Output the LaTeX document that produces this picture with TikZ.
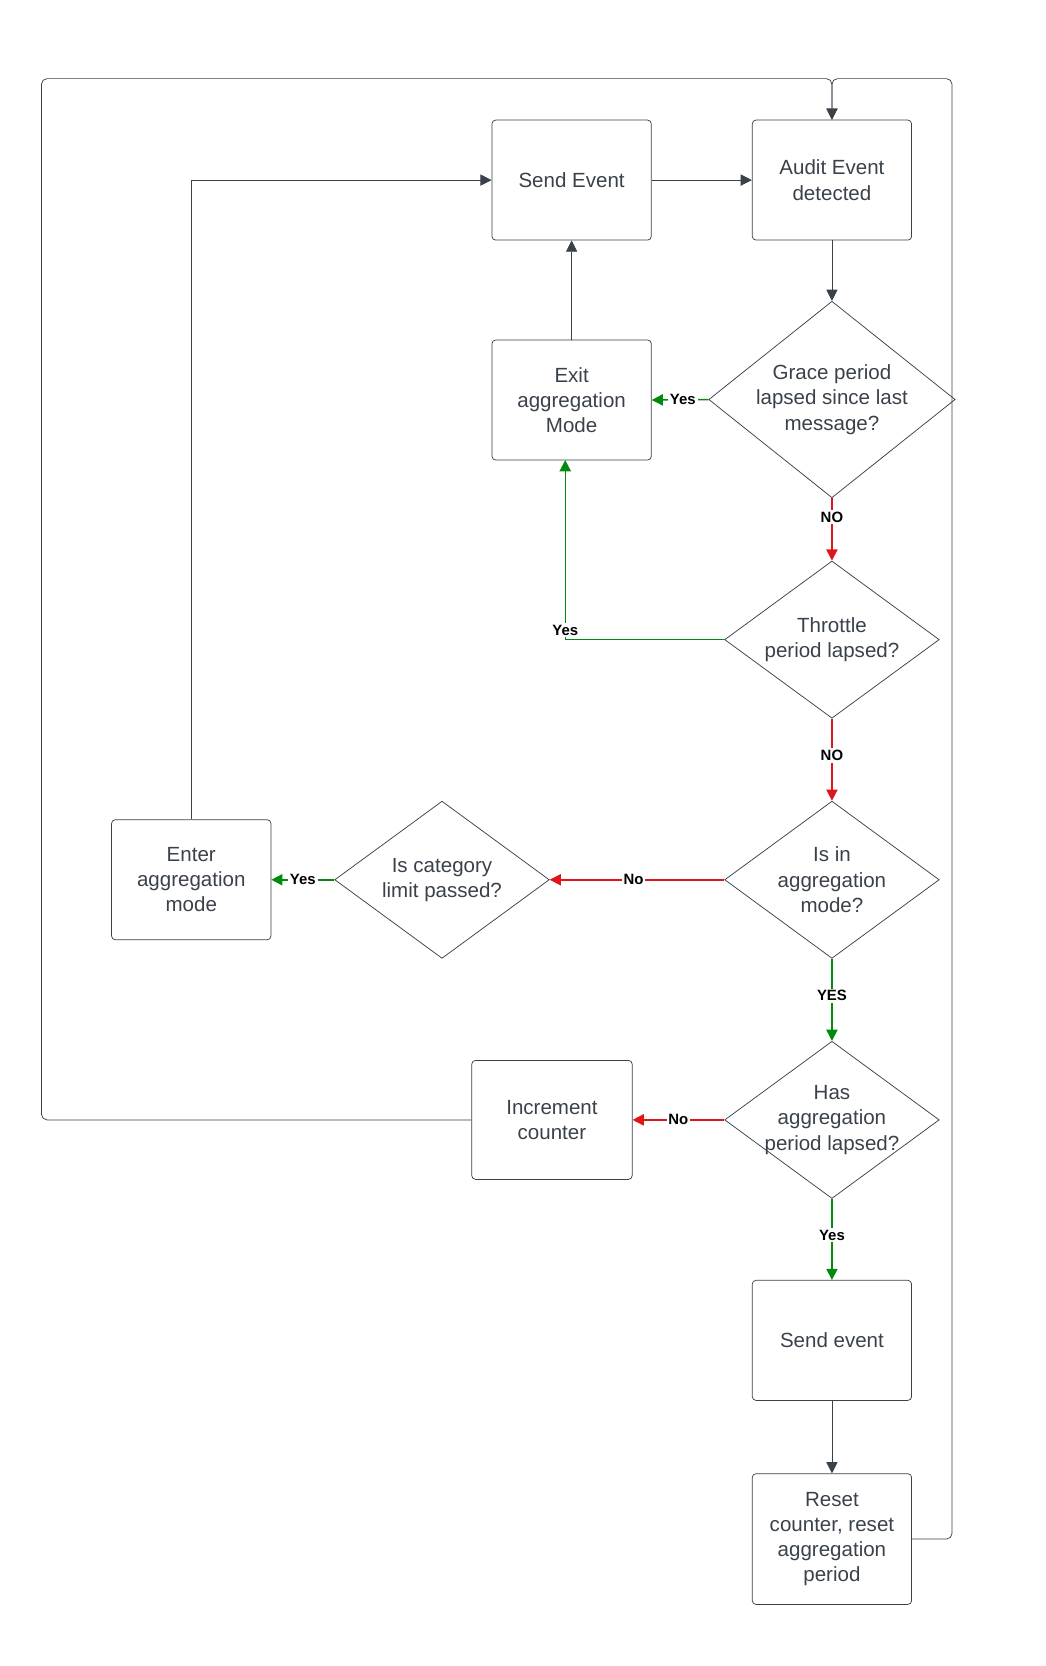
\documentclass[tikz,border=0pt]{standalone}
\usepackage{fontspec}
\setmainfont{Liberation Sans}
\usetikzlibrary{shapes.geometric,arrows.meta}
\definecolor{ink}{HTML}{3A414A}
\definecolor{okgreen}{HTML}{008A0E}
\definecolor{nored}{HTML}{E0151A}
\tikzset{
  box/.style={draw=ink, rounded corners=2pt, minimum width=3cm, minimum height=2.26cm, align=center, text=ink, font=\fontsize{11}{13.5}\selectfont, inner sep=2pt},
  choice/.style={draw=ink, diamond, aspect=1.36, align=center, text=ink, font=\fontsize{11}{13.5}\selectfont, inner sep=0pt},
  flow/.style={draw=ink, -{Triangle[length=6pt,width=6pt]}},
  yesflow/.style={draw=okgreen, thick, -{Triangle[length=6pt,width=6pt,fill=okgreen]}},
  noflow/.style={draw=nored, thick, -{Triangle[length=6pt,width=6pt,fill=nored]}},
  lbl/.style={fill=white, inner sep=1pt, font=\bfseries\fontsize{8}{9}\selectfont, text=black}
}
\begin{document}
\begin{tikzpicture}[x=0.02cm, y=-0.02cm]
\useasboundingbox (0,0) rectangle (984,1568);

\node[box] (send) at (538,169.5) {Send Event};
\node[box] (audit) at (783,169.5) {Audit Event\\detected};
\node[box] (exit) at (538,376.5) {Exit\\aggregation\\Mode};
\node[choice, minimum width=4.6cm, minimum height=3.7cm] (grace) at (783,376) {Grace period\\lapsed since last\\message?};
\node[choice, minimum width=4.04cm, minimum height=2.96cm] (throttle) at (783,602) {Throttle\\period lapsed?};
\node[choice, minimum width=4.04cm, minimum height=2.96cm] (isin) at (783,828) {Is in\\aggregation\\mode?};
\node[choice, minimum width=4.04cm, minimum height=2.96cm] (category) at (416,828) {Is category\\limit passed?};
\node[box] (enter) at (180,828) {Enter\\aggregation\\mode};
\node[choice, minimum width=4.04cm, minimum height=2.96cm, inner sep=-9pt] (has) at (783,1054) {Has\\aggregation\\period lapsed?};
\node[box, minimum width=3.02cm, minimum height=2.24cm] (incr) at (519.5,1054) {Increment\\counter};
\node[box] (sendev) at (783,1261.5) {Send event};
\node[box, minimum height=2.46cm] (reset) at (783,1448.5) {Reset\\counter, reset\\aggregation\\period};

\coordinate (top) at (783,74);

% main flow
\draw[flow] (send) -- (audit);
\draw[flow] (audit) -- (grace);
\draw[flow] (exit) -- (send);
\draw[flow] (enter.north) |- (send.west);
\draw[flow] (sendev) -- (reset);

% decisions
\draw[yesflow] (grace.west) -- node[lbl, pos=0.45] {Yes} (exit.east);
\draw[noflow] (grace.south) -- node[lbl, pos=0.3] {NO} (throttle.north);
\draw[yesflow] (throttle.west) -- (532,602) node[lbl, above=1pt] {Yes} -- (532,433);
\draw[noflow] (throttle.south) -- node[lbl, pos=0.45] {NO} (isin.north);
\draw[noflow] (isin.west) -- node[lbl, pos=0.52] {No} (category.east);
\draw[yesflow] (category.west) -- node[lbl, pos=0.5] {Yes} (enter.east);
\draw[yesflow] (isin.south) -- node[lbl, pos=0.45] {YES} (has.north);
\draw[noflow] (has.west) -- node[lbl, pos=0.5] {No} (incr.east);
\draw[yesflow] (has.south) -- node[lbl, pos=0.45] {Yes} (sendev.north);

% loops back
\draw[flow, rounded corners=3pt] (reset.east) -- (896,1448.5) |- (top) -- (audit.north);
\draw[flow, rounded corners=3pt] (incr.west) -- (39,1054) |- (top) -- (audit.north);
\end{tikzpicture}
\end{document}
